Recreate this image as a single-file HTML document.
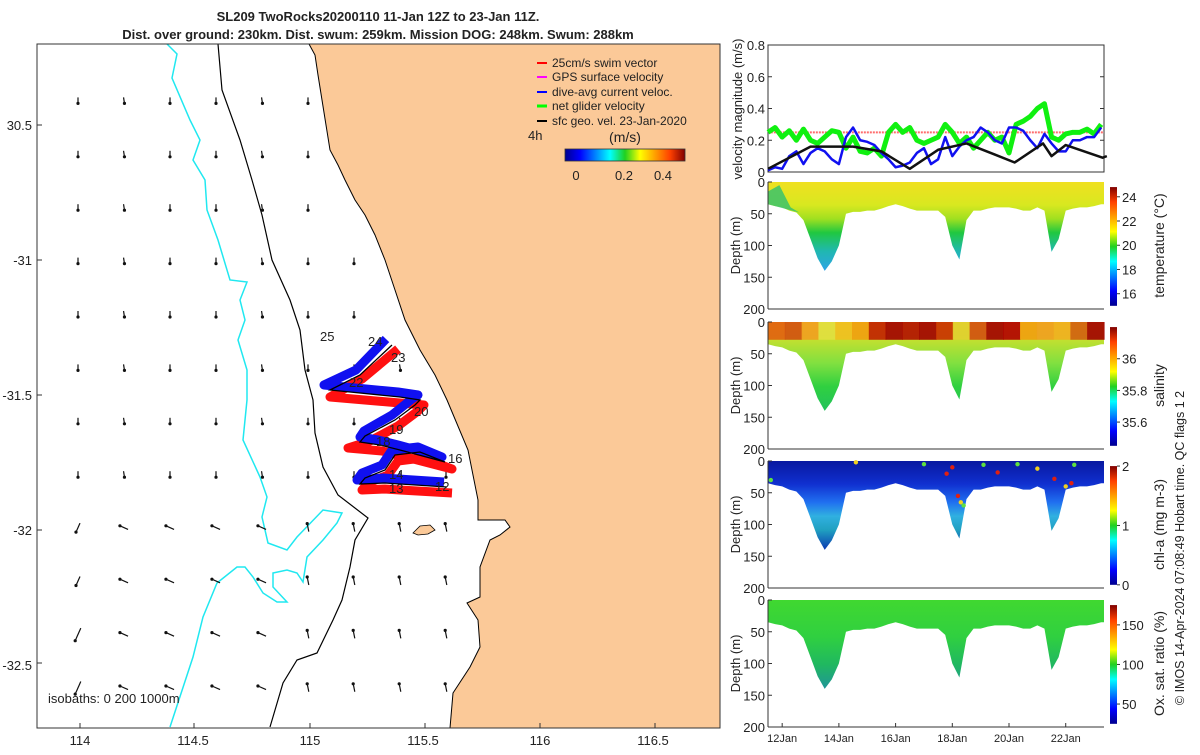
<!DOCTYPE html>
<html><head><meta charset="utf-8">
<style>
html,body{margin:0;padding:0;background:#fff;}
body{width:1200px;height:750px;overflow:hidden;font-family:"Liberation Sans","DejaVu Sans",sans-serif;}
svg text{font-family:"Liberation Sans","DejaVu Sans",sans-serif;fill:#222;}
</style></head>
<body>
<svg id="root" width="1200" height="750" viewBox="0 0 1200 750" xmlns="http://www.w3.org/2000/svg">
<defs>
<linearGradient id="jetH" x1="0" x2="1" y1="0" y2="0">
<stop offset="0" stop-color="#00008f"/><stop offset="0.125" stop-color="#0000ff"/><stop offset="0.375" stop-color="#00ffff"/><stop offset="0.5" stop-color="#20d020"/><stop offset="0.625" stop-color="#ffff00"/><stop offset="0.875" stop-color="#ff4000"/><stop offset="1" stop-color="#800000"/>
</linearGradient>
<linearGradient id="jetV" x1="0" x2="0" y1="1" y2="0">
<stop offset="0" stop-color="#00008f"/><stop offset="0.125" stop-color="#0000ff"/><stop offset="0.375" stop-color="#00ffff"/><stop offset="0.5" stop-color="#20d020"/><stop offset="0.625" stop-color="#ffff00"/><stop offset="0.875" stop-color="#ff4000"/><stop offset="1" stop-color="#800000"/>
</linearGradient>
</defs>

<text x="378" y="21" text-anchor="middle" font-size="13" font-weight="bold">SL209 TwoRocks20200110 11-Jan 12Z to 23-Jan 11Z.</text>
<text x="378" y="39" text-anchor="middle" font-size="13" font-weight="bold">Dist. over ground: 230km. Dist. swum: 259km. Mission DOG: 248km. Swum: 288km</text>

<g id="map">
<rect x="37" y="44" width="683" height="684" fill="#fff"/>
<polygon fill="#fbc998" points="309,44 720,44 720,728 450,728 453,693 470,667 480,647 478,620 467,603 480,597 480,567 490,540 500,535 510,527 505,520 478,520 478,500 468,450 447,400 435,375 420,350 405,320 395,290 385,260 375,235 365,215 355,200 345,180 338,165 330,150 322,100 318,75 315,55"/>
<polyline fill="none" stroke="#000" stroke-width="1" points="309,44 315,55 318,75 322,100 330,150 338,165 345,180 355,200 365,215 375,235 385,260 395,290 405,320 420,350 435,375 447,400 468,450 478,500 478,520 505,520 510,527 500,535 490,540 480,567 480,597 467,603 478,620 480,647 470,667 453,693 450,728"/>
<polygon fill="#fbc998" stroke="#000" stroke-width="0.8" points="413,533 420,526 430,525 435,530 428,534 418,535"/>
<polyline fill="none" stroke="#20e8f0" stroke-width="1.5" points="167,44 177,54 172,78 190,120 200,140 193,160 205,180 207,210 218,240 230,280 247,282 240,300 245,320 238,340 247,370 247,400 243,440 260,477 267,497 262,517 268,543 287,550 297,537 323,510 342,513 337,523 323,540 307,557 303,582 297,573 287,570 273,573 273,587 287,602 277,602 263,593 253,577 245,567 237,567 217,583 203,617 193,657 170,727"/>
<polyline fill="none" stroke="#000" stroke-width="1.2" points="218,44 222,90 240,140 252,180 262,215 272,260 290,300 300,330 305,370 313,400 315,433 323,467 338,495 368,518 355,540 350,567 342,600 333,620 317,653 297,660 283,683 270,727"/>
<g id="arrows"></g>
<polyline fill="none" stroke="#ff1010" stroke-width="9" stroke-linejoin="round" points="452,493 400,490 385,489 362,490 368,483 388,475 398,461 422,458 452,469 402,456 382,451 348,448 370,441 398,426 418,411 424,405 400,403 330,397 362,379 398,349"/>
<polyline fill="none" stroke="#1010f0" stroke-width="9" stroke-linejoin="round" points="444,482 398,479 383,478 357,480 362,473 382,465 392,450 418,447 442,457 398,445 378,440 360,437 364,431 392,415 412,399 418,395 398,392 324,385 356,370 386,339"/>
<polyline fill="none" stroke="#000" stroke-width="1.3" points="447,487 400,484 385,483 360,484 365,478 385,470 395,455 420,452 445,462 400,450 380,445 360,442 365,436 395,420 415,405 420,400 400,397 330,390 360,375 392,345"/>
<g font-size="13">
<text x="320" y="341">25</text>
<text x="368" y="346">24</text>
<text x="391" y="362">23</text>
<text x="349" y="387">22</text>
<text x="414" y="416">20</text>
<text x="389" y="434">19</text>
<text x="376" y="446">18</text>
<text x="448" y="463">16</text>
<text x="389" y="479">14</text>
<text x="389" y="493">13</text>
<text x="435" y="491">12</text>
</g>
<rect x="37" y="44" width="683" height="684" fill="none" stroke="#333" stroke-width="1"/>
<g font-size="13">
<text x="80" y="745" text-anchor="middle">114</text>
<text x="193" y="745" text-anchor="middle">114.5</text>
<text x="310" y="745" text-anchor="middle">115</text>
<text x="423" y="745" text-anchor="middle">115.5</text>
<text x="540" y="745" text-anchor="middle">116</text>
<text x="653" y="745" text-anchor="middle">116.5</text>
</g>
<g stroke="#333" stroke-width="1">
<line x1="194" y1="728" x2="194" y2="723"/><line x1="310" y1="728" x2="310" y2="723"/><line x1="425" y1="728" x2="425" y2="723"/><line x1="540" y1="728" x2="540" y2="723"/><line x1="655" y1="728" x2="655" y2="723"/><line x1="80" y1="728" x2="80" y2="723"/>
<line x1="37" y1="125" x2="42" y2="125"/><line x1="37" y1="260" x2="42" y2="260"/><line x1="37" y1="395" x2="42" y2="395"/><line x1="37" y1="530" x2="42" y2="530"/><line x1="37" y1="663" x2="42" y2="663"/>
</g>
<g font-size="13">
<text x="32" y="130" text-anchor="end">30.5</text>
<text x="32" y="265" text-anchor="end">-31</text>
<text x="32" y="400" text-anchor="end">-31.5</text>
<text x="32" y="535" text-anchor="end">-32</text>
<text x="32" y="670" text-anchor="end">-32.5</text>
</g>
<text x="48" y="703" font-size="13">isobaths: 0   200  1000m</text>
<g font-size="12">
<line x1="537" y1="63" x2="547" y2="63" stroke="#f00" stroke-width="2"/><text x="552" y="67">25cm/s swim vector</text>
<line x1="537" y1="77" x2="547" y2="77" stroke="#f0f" stroke-width="2"/><text x="552" y="81">GPS surface velocity</text>
<line x1="537" y1="92" x2="547" y2="92" stroke="#00f" stroke-width="2"/><text x="552" y="96">dive-avg current veloc.</text>
<line x1="537" y1="106" x2="547" y2="106" stroke="#0f0" stroke-width="3"/><text x="552" y="110">net glider velocity</text>
<line x1="537" y1="121" x2="547" y2="121" stroke="#000" stroke-width="2"/><text x="552" y="125">sfc geo. vel. 23-Jan-2020</text>
<text x="528" y="140" font-size="13">4h</text>
<text x="625" y="142" font-size="14" text-anchor="middle">(m/s)</text>
<rect x="565" y="149" width="120" height="12" fill="url(#jetH)" stroke="#333" stroke-width="0.8"/>
<text x="576" y="180" text-anchor="middle" font-size="13">0</text>
<text x="624" y="180" text-anchor="middle" font-size="13">0.2</text>
<text x="663" y="180" text-anchor="middle" font-size="13">0.4</text>
</g>
</g>

<g id="right"></g>
<text transform="translate(1184,548) rotate(-90)" text-anchor="middle" font-size="12.5">© IMOS 14-Apr-2024 07:08:49 Hobart time. QC flags 1  2</text>
</svg>

<script>
const NS='http://www.w3.org/2000/svg';
const speedDays=[11.5,11.75,12,12.25,12.5,12.75,13,13.25,13.5,13.75,14,14.25,14.5,14.75,15,15.25,15.5,15.75,16,16.25,16.5,16.75,17,17.25,17.5,17.75,18,18.25,18.5,18.75,19,19.25,19.5,19.75,20,20.25,20.5,20.75,21,21.25,21.5,21.75,22,22.25,22.5,22.75,23,23.25];
const netGlider=[0.25,0.28,0.22,0.26,0.2,0.27,0.2,0.18,0.22,0.26,0.25,0.15,0.22,0.13,0.12,0.15,0.1,0.25,0.3,0.25,0.28,0.2,0.18,0.2,0.22,0.3,0.25,0.18,0.22,0.15,0.2,0.25,0.2,0.22,0.12,0.3,0.32,0.35,0.4,0.43,0.22,0.2,0.24,0.25,0.25,0.27,0.24,0.3];
const diveAvg=[0.01,0.03,0.02,0.1,0.13,0.05,0.12,0.15,0.13,0.08,0.05,0.22,0.28,0.2,0.19,0.17,0.12,0.08,0.03,0.04,0.06,0.12,0.15,0.05,0.08,0.22,0.1,0.16,0.2,0.22,0.28,0.25,0.2,0.18,0.28,0.28,0.26,0.2,0.15,0.24,0.18,0.13,0.13,0.2,0.2,0.22,0.22,0.28];
const geoDays=[11.5,13.0,14.5,15.5,16.5,17.5,18.5,19.5,20.2,21.2,21.5,22.0,23.3,23.45];
const geoVel=[0.02,0.16,0.16,0.13,0.02,0.14,0.18,0.11,0.06,0.18,0.10,0.17,0.09,0.1];
const swimSpeed=0.25;
const diveDepth=[35,38,40,45,48,60,90,120,140,125,100,50,47,47,45,45,42,38,35,38,42,45,45,45,45,55,100,122,60,45,45,42,40,40,40,42,45,45,40,45,110,90,45,42,40,40,38,35];
const dateTicks=[12,14,16,18,20,22];
const dateLabels=['12Jan','14Jan','16Jan','18Jan','20Jan','22Jan'];
const salSurface=['#e06010','#d05010','#f0a020','#e0e040','#f0c020','#f0a010','#c02000','#a00000','#b01000','#a00000','#c83000','#e0d030','#d05010','#a00000','#b00000','#f0a010','#f0a020','#f0b020','#d06010','#a00000'];
const chlDots=[[14.6,2,1.5],[17.0,5,1.2],[18.0,10,1.8],[18.2,55,1.7],[18.3,65,1.4],[18.4,70,1.0],[19.1,6,1.3],[19.6,18,1.8],[20.3,5,1.3],[21.0,12,1.6],[21.6,28,1.8],[22.0,40,1.5],[22.2,35,1.8],[22.3,6,1.2],[11.6,30,1.0],[17.8,20,1.8]];

const X0=768,X1=1104,D0=11.5,D1=23.35;
const xd=d=>X0+(d-D0)/(D1-D0)*(X1-X0);
const vy=v=>172-v/0.8*127;
const panels=[{y:182,name:'temperature'},{y:322,name:'salinity'},{y:461,name:'chl-a'},{y:600,name:'oxygen'}];
const PH=127;
function el(tag,attrs,parent){const e=document.createElementNS(NS,tag);for(const k in attrs)e.setAttribute(k,attrs[k]);parent.appendChild(e);return e;}
const R=document.getElementById('right');

const vp=el('g',{},R);


el('rect',{x:X0,y:45,width:X1-X0,height:127,fill:'#fff',stroke:'#333','stroke-width':1},vp);
[0,0.2,0.4,0.6,0.8].forEach(v=>{
  el('line',{x1:X0,x2:X0+4,y1:vy(v),y2:vy(v),stroke:'#333'},vp);
  el('line',{x1:X1-4,x2:X1,y1:vy(v),y2:vy(v),stroke:'#333'},vp);
  const t=el('text',{x:X0-3,y:vy(v)+5,'text-anchor':'end','font-size':13},vp);t.textContent=v===0?'0':v.toFixed(1);
});
const vl=el('text',{transform:'translate(742,109) rotate(-90)','text-anchor':'middle','font-size':13},vp);vl.textContent='velocity magnitude (m/s)';


const sw=el('line',{x1:xd(11.6),x2:X1,y1:vy(swimSpeed),y2:vy(swimSpeed),stroke:'#ff3030','stroke-width':2,'stroke-dasharray':'2,1',opacity:0.7},vp);


function poly(days,vals,color,w,name){
  const p=el('polyline',{points:days.map((d,i)=>xd(d)+','+vy(vals[i])).join(' '),fill:'none',stroke:color,'stroke-width':w,'stroke-linejoin':'round'},vp);
  
  
}
poly(speedDays,netGlider,'#10f010',5,'net-glider-velocity-line');
poly(speedDays,diveAvg,'#1010f0',2.5,'dive-avg-current-line');
poly(geoDays,geoVel,'#111',2.5,'sfc-geo-velocity-line');

const cfg={
 temperature:{stops:[[0,'#f0e020'],[0.25,'#d8e820'],[0.4,'#a0e020'],[0.55,'#20c840'],[0.75,'#20b8b0'],[1,'#30a0f0']],cb:['24','22','20','18','16'],cbv:[24,22,20,18,16],cmin:15,cmax:24.8,label:'temperature (°C)'},
 salinity:{stops:[[0,'#f0c020'],[0.2,'#c0e030'],[0.45,'#80e040'],[0.7,'#30d040'],[1,'#20c060']],cb:['36','35.8','35.6'],cbv:[36,35.8,35.6],cmin:35.45,cmax:36.2,label:'salinity'},
 'chl-a':{stops:[[0,'#0818a0'],[0.25,'#1030d0'],[0.45,'#2070f0'],[0.6,'#30b0e0'],[0.75,'#20a0c0'],[1,'#0828b0']],cb:['2','1','0'],cbv:[2,1,0],cmin:0,cmax:2,label:'chl-a (mg m-3)'},
 oxygen:{stops:[[0,'#40d830'],[0.4,'#30d040'],[0.7,'#20b860'],[1,'#2090a0']],cb:['150','100','50'],cbv:[150,100,50],cmin:25,cmax:175,label:'Ox. sat. ratio (%)'}
};
const defs=document.querySelector('defs');
panels.forEach((p,pi)=>{
  const c=cfg[p.name];
  const g=el('g',{},R);
  
  
  const dy=d=>p.y+d/200*PH;
  const gid='grad'+pi;
  const lg=el('linearGradient',{id:gid,x1:0,x2:0,y1:dy(0),y2:dy(145),gradientUnits:'userSpaceOnUse'},defs);
  c.stops.forEach(s=>el('stop',{offset:s[0],'stop-color':s[1]},lg));
  let pts=xd(speedDays[0])+','+dy(0)+' ';
  pts+=speedDays.map((d,i)=>xd(d)+','+dy(diveDepth[i])).join(' ');
  pts+=' '+X1+','+dy(diveDepth[diveDepth.length-1])+' '+X1+','+dy(0);
  const f=el('polygon',{points:pts,fill:'url(#'+gid+')'},g);
  
  
  if(p.name==='temperature'){
    const gp=el('polygon',{points:[xd(11.5)+','+dy(35),xd(11.5)+','+dy(15),xd(11.9)+','+dy(5),xd(12.3)+','+dy(40),xd(12.6)+','+dy(48)].join(' '),fill:'#30c070',opacity:0.8},g);
    
    
  }
  if(p.name==='salinity'){
    const w=(X1-X0)/salSurface.length;
    salSurface.forEach((col,i)=>{
      const r=el('rect',{x:X0+i*w,y:dy(0),width:w+0.6,height:dy(28)-dy(0),fill:col,opacity:0.9},g);
      
      
    });
  }
  if(p.name==='chl-a'){
    chlDots.forEach(dd=>{
      const cc=el('circle',{cx:xd(dd[0]),cy:dy(dd[1]),r:2.2,fill:dd[2]>1.6?'#e02010':dd[2]>1.3?'#f0d020':'#60e040'},g);
      
      
    });
  }
  el('line',{x1:X0,x2:X0,y1:dy(0),y2:dy(200),stroke:'#333'},g);
  el('line',{x1:X0,x2:X1,y1:dy(200),y2:dy(200),stroke:'#333'},g);
  [0,50,100,150,200].forEach(d=>{
    el('line',{x1:X0,x2:X0+4,y1:dy(d),y2:dy(d),stroke:'#333'},g);
    const t=el('text',{x:X0-3,y:dy(d)+5,'text-anchor':'end','font-size':13},g);t.textContent=d;
  });
  const yl=el('text',{transform:'translate(740,'+(dy(100))+') rotate(-90)','text-anchor':'middle','font-size':13},g);yl.textContent='Depth (m)';
  
  
  const cy0=dy(8),cy1=dy(195);
  const cbr=el('rect',{x:1110,y:cy0,width:7,height:cy1-cy0,fill:'url(#jetV)'},g);
  
  
  c.cbv.forEach((v,i)=>{
    const yy=cy1-(v-c.cmin)/(c.cmax-c.cmin)*(cy1-cy0);
    el('line',{x1:1117,x2:1120,y1:yy,y2:yy,stroke:'#333'},g);
    const t=el('text',{x:1122,y:yy+5,'font-size':13},g);t.textContent=c.cb[i];
  });
  const cl=el('text',{transform:'translate(1164,'+(dy(100))+') rotate(-90)','text-anchor':'middle','font-size':14},g);cl.textContent=c.label;
  
  
});
dateTicks.forEach((d,i)=>{
  el('line',{x1:xd(d),x2:xd(d),y1:727,y2:723,stroke:'#333'},R);
  const t=el('text',{x:xd(d),y:742,'text-anchor':'middle','font-size':11},R);t.textContent=dateLabels[i];
  
  
});

const A=document.getElementById('arrows');
function coastX(y){const pts=[[44,309],[100,322],[180,345],[260,385],[320,405],[400,447],[450,468],[500,478],[600,478],[728,450]];for(let i=1;i<pts.length;i++){if(y<=pts[i][0]){const a=pts[i-1],b=pts[i];return a[1]+(b[1]-a[1])*(y-a[0])/(b[0]-a[0]);}}return 450;}
for(let r=0;r<13;r++){
  const y=47+r*53.4;
  for(let c=0;c<9;c++){
    const x=78+c*46;
    if(x>coastX(y)-10)continue;
    if(r===0)continue;
    let ux=0,uy=1,len=6;
    if(r>=9){
      if(c===0){ux=-0.4;uy=0.9;len=r>=11?14:10;}
      else if(c<=4){ux=-0.9;uy=-0.4;len=9;}
      else {ux=-0.2;uy=-1;len=8;}
    } else { ux=(c%3===1)?0.15:0; }
    const x2=x+ux*len/2,y2=y+uy*len/2,x1=x-ux*len/2,y1=y-uy*len/2;
    const a=el('line',{x1:x1,y1:y1,x2:x2,y2:y2,stroke:'#111','stroke-width':1.2},A);
    
    
    el('circle',{cx:x2,cy:y2,r:1.6,fill:'#111'},A);
  }
}
</script>
</body></html>
